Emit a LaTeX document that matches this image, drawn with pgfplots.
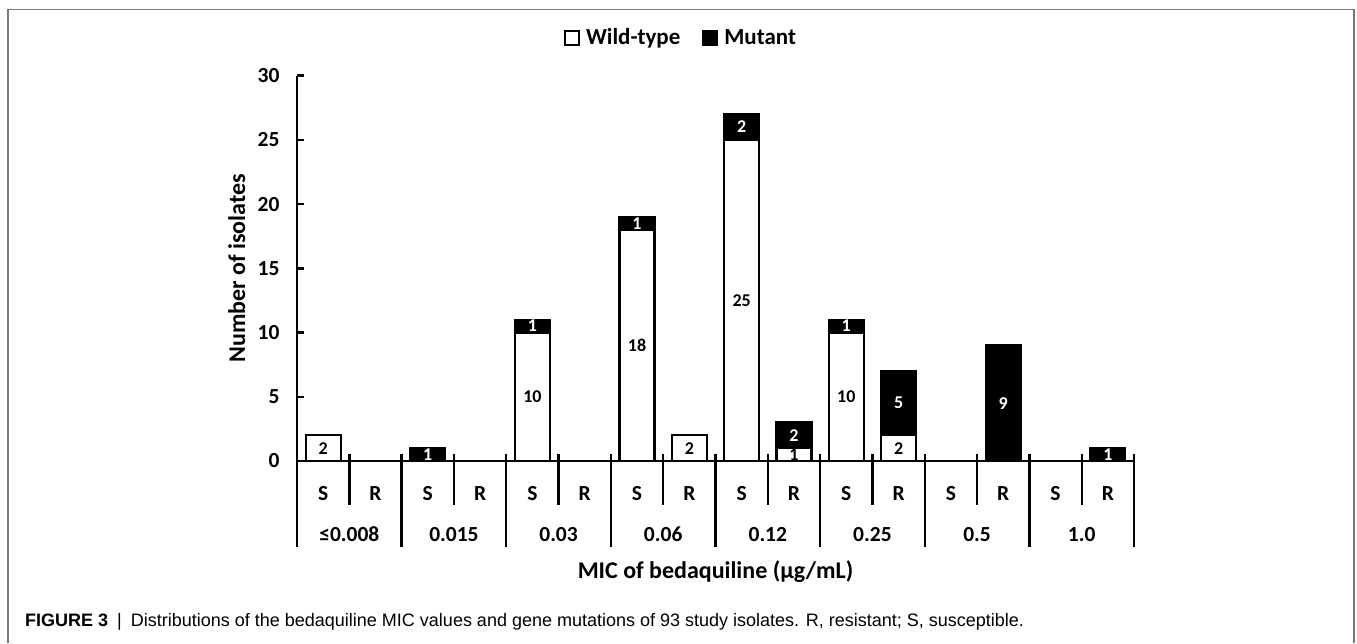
\documentclass[border=0pt]{standalone}
\usepackage{fontspec}
\usepackage{pgfplots}
\pgfplotsset{compat=1.18}
\setmainfont{Carlito}
\newfontfamily\capfamily{Liberation Sans}
\definecolor{framegray}{RGB}{120,120,120}
\newcommand\tickfont{\fontsize{21.5}{25}\selectfont\bfseries}
\newcommand\axfont{\fontsize{24}{28}\selectfont\bfseries}
\newcommand\legfont{\fontsize{23}{27}\selectfont\bfseries}
\newcommand\barfont{\fontsize{18}{21}\selectfont\bfseries}
\begin{document}
\begin{tikzpicture}
\path[use as bounding box] (0,0) rectangle (1357pt,643pt);
\draw[framegray, line width=1.5pt] (8pt,0pt) -- (8pt,633.5pt) -- (1354pt,633.5pt) -- (1354pt,0pt);
\begin{axis}[
  at={(297pt,182pt)}, anchor=south west,
  scale only axis, width=837pt, height=385.3pt,
  xmin=-0.5, xmax=15.5, ymin=0, ymax=30,
  ybar stacked, bar width=35pt,
  axis x line*=bottom, axis y line*=left,
  axis line style={line width=2.4pt, -},
  ytick={0,5,...,30},
  tick align=inside, major tick length=7pt,
  ytick style={line width=2.4pt, black},
  xtick style={draw=none},
  /pgf/number format/assume math mode=true,
  yticklabel style={font=\tickfont, xshift=-14pt},
  xtick={0,...,15},
  xticklabels={S,R,S,R,S,R,S,R,S,R,S,R,S,R,S,R},
  xticklabel style={font=\tickfont, anchor=base, yshift=-39pt},
  extra x ticks={0.5,2.5,4.5,6.5,8.5,10.5,12.5,14.5},
  extra x tick labels={≤0.008,0.015,0.03,0.06,0.12,0.25,0.5,1.0},
  extra x tick style={grid=none, major tick length=0pt,
     every x tick label/.style={font=\tickfont, anchor=base, yshift=-80.5pt}},
  ylabel={Number of isolates},
  ylabel style={font=\axfont, at={(axis description cs:-0.072,0.5)}, anchor=center},
  xlabel={MIC of bedaquiline (µg/mL)},
  xlabel style={font=\axfont, at={(axis description cs:0.5,-0.288)}, anchor=center},
  legend style={at={(rel axis cs:0.4576,1.099)}, anchor=center, draw=none, fill=none,
     font=\legfont, legend columns=2, nodes={inner sep=0pt},
     /tikz/every odd column/.append style={column sep=6pt},
     /tikz/every even column/.append style={column sep=22pt}},
  legend cell align=left,
  legend image code/.code={\draw[#1, line width=2pt] (0pt,-7pt) rectangle (14pt,7pt);},
  clip=false,
]
\addplot[fill=white, draw=black, line width=2.2pt] coordinates {
 (0,2) (1,0) (2,0) (3,0) (4,10) (5,0) (6,18) (7,2)
 (8,25) (9,1) (10,10) (11,2) (12,0) (13,0) (14,0) (15,0)};
\addplot[fill=black, draw=black, line width=2.2pt] coordinates {
 (0,0) (1,0) (2,1) (3,0) (4,1) (5,0) (6,1) (7,0)
 (8,2) (9,2) (10,1) (11,5) (12,0) (13,9) (14,0) (15,1)};
\legend{Wild-type, Mutant}
\pgfplotsinvokeforeach{0,...,8}{
  \draw[line width=2.4pt] ([yshift=7pt]axis cs:{2*#1-0.5},0) -- ([yshift=-86pt]axis cs:{2*#1-0.5},0);
}
\pgfplotsinvokeforeach{0,...,7}{
  \draw[line width=2.4pt] ([yshift=7pt]axis cs:{2*#1+0.5},0) -- ([yshift=-44pt]axis cs:{2*#1+0.5},0);
}
\end{axis}
\begin{axis}[
  at={(297pt,182pt)}, anchor=south west,
  scale only axis, width=837pt, height=385.3pt,
  xmin=-0.5, xmax=15.5, ymin=0, ymax=30,
  hide axis, clip=false,
]
\addplot[draw=none, mark=none,
  nodes near coords, point meta=explicit symbolic,
  every node near coord/.append style={anchor=center, text=black, font=\barfont, inner sep=0pt}]
  table[meta=lab] {
x y lab
0 1 2
4 5 10
6 9 18
7 1 2
8 12.5 25
9 0.5 1
10 5 10
11 1 2
};
\addplot[draw=none, mark=none,
  nodes near coords, point meta=explicit symbolic,
  every node near coord/.append style={anchor=center, text=white, font=\barfont, inner sep=0pt}]
  table[meta=lab] {
x y lab
2 0.5 1
4 10.5 1
6 18.5 1
8 26 2
9 2 2
10 10.5 1
11 4.5 5
13 4.5 9
15 0.5 1
};
\end{axis}
\node[anchor=base west, inner sep=0pt] at (25pt,17pt)
  {\capfamily\fontsize{18}{21}\selectfont\textbf{FIGURE 3}\enspace|\enspace Distributions of the bedaquiline MIC values and gene mutations of 93 study isolates. R, resistant; S, susceptible.};
\end{tikzpicture}
\end{document}
